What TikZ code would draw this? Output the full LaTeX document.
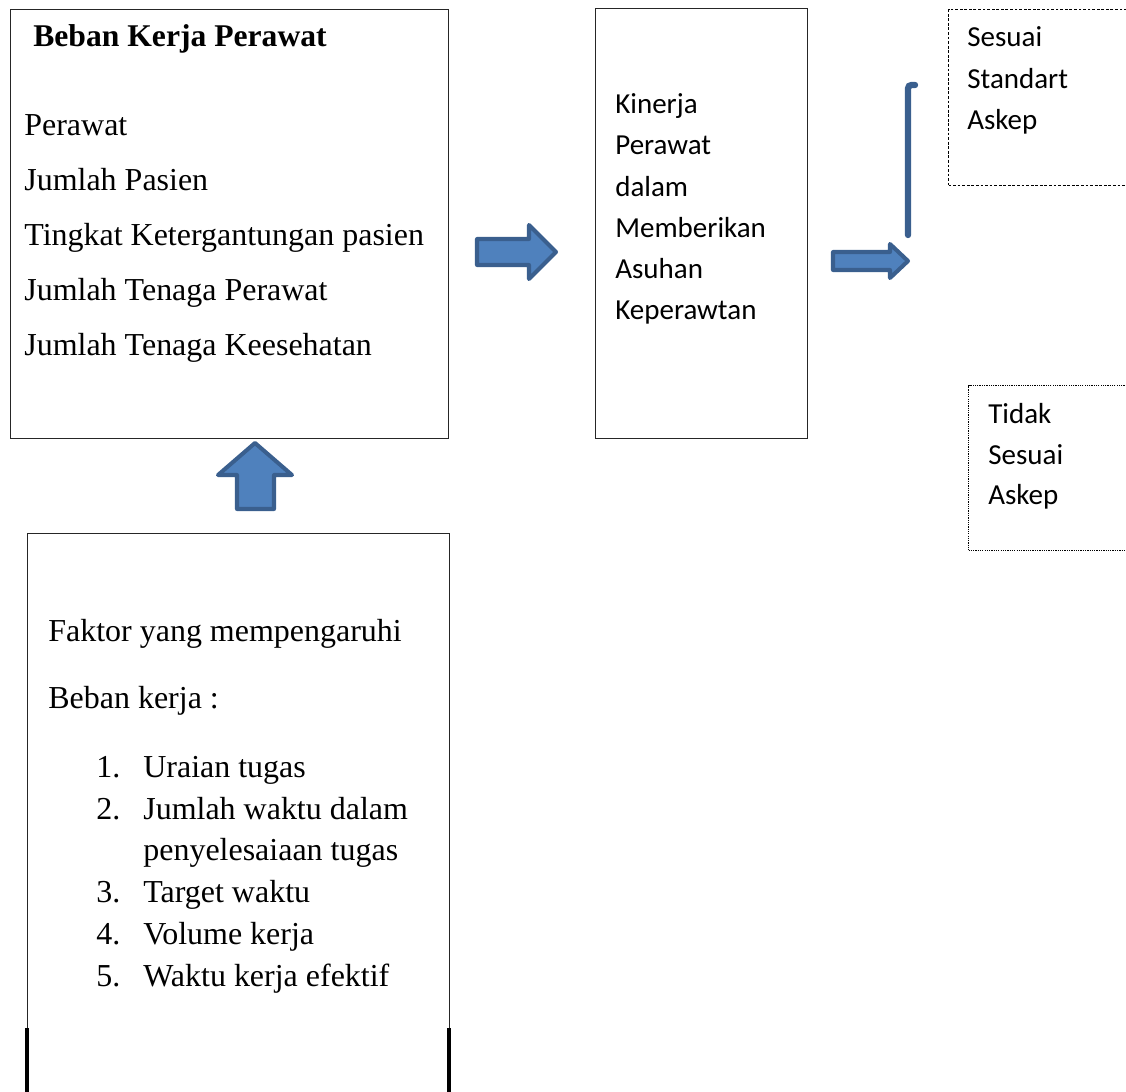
\documentclass[tikz,border=0pt]{standalone}
\usepackage{fontspec}
\setmainfont{Liberation Serif}
\newfontfamily\calibri{Carlito}
\usepackage{tikz}
\usepackage{xcolor}
\definecolor{arrowfill}{HTML}{4F81BD}
\definecolor{arrowline}{HTML}{3A5F8E}

\begin{document}
\begin{tikzpicture}[x=0.02cm, y=-0.02cm,
	box/.style={draw=black!85, line width=0.8pt, anchor=north west, inner sep=0pt},
	txt/.style={anchor=base west, inner sep=0pt, font=\fontsize{18.2}{22}\selectfont},
	sans/.style={anchor=base west, inner sep=0pt, font=\calibri\fontsize{16.5}{20}\selectfont},
	blockarrow/.style={fill=arrowfill, draw=arrowline, line width=2.3pt, line join=round}]
	\useasboundingbox (0,0) rectangle (1126,1092);
	% boxes
	\node [box, minimum width=8.76cm, minimum height=8.58cm] (0) at (10, 9) {};
	\node [box, minimum width=4.24cm, minimum height=8.6cm] (1) at (595, 8) {};
	\node [box, draw=black, line width=0.6pt, dash pattern=on 1.6pt off 1pt, minimum width=4cm, minimum height=3.52cm] (2) at (948, 9) {};
	\node [box, draw=black, line width=0.6pt, dash pattern=on 0.7pt off 0.6pt, minimum width=4cm, minimum height=3.3cm] (3) at (968, 385) {};
	\node [box, minimum width=8.44cm, minimum height=11.6cm] (4) at (27, 533) {};
	\draw [line width=1.8pt] (27, 1028) to (27, 1100);
	\draw [line width=1.8pt] (449, 1028) to (449, 1100);
	% beban kerja
	\node [txt, font=\bfseries\fontsize{18}{22}\selectfont] (10) at (33, 47) {Beban Kerja Perawat};
	\node [txt] (11) at (24, 135) {Perawat};
	\node [txt] (12) at (24, 190) {Jumlah Pasien};
	\node [txt] (13) at (24, 245) {Tingkat Ketergantungan pasien};
	\node [txt] (14) at (24, 300) {Jumlah Tenaga Perawat};
	\node [txt] (15) at (24, 355) {Jumlah Tenaga Keesehatan};
	% kinerja
	\node [sans] (20) at (615, 113) {Kinerja};
	\node [sans] (21) at (615, 154) {Perawat};
	\node [sans] (22) at (615, 196) {dalam};
	\node [sans] (23) at (615, 237) {Memberikan};
	\node [sans] (24) at (615, 278) {Asuhan};
	\node [sans] (25) at (615, 319) {Keperawtan};
	% hasil
	\node [sans] (30) at (967, 47) {Sesuai};
	\node [sans] (31) at (967, 88) {Standart};
	\node [sans] (32) at (967, 129) {Askep};
	\node [sans] (33) at (988, 423) {Tidak};
	\node [sans] (34) at (988, 464) {Sesuai};
	\node [sans] (35) at (988, 504) {Askep};
	% faktor
	\node [txt] (40) at (48, 641) {Faktor yang mempengaruhi};
	\node [txt] (41) at (48, 708) {Beban kerja :};
	\node [txt] (42) at (96, 777) {1.};
	\node [txt] (43) at (143, 777) {Uraian tugas};
	\node [txt] (44) at (96, 819) {2.};
	\node [txt] (45) at (143, 819) {Jumlah waktu dalam};
	\node [txt] (46) at (143, 860) {penyelesaiaan tugas};
	\node [txt] (47) at (96, 902) {3.};
	\node [txt] (48) at (143, 902) {Target waktu};
	\node [txt] (49) at (96, 944) {4.};
	\node [txt] (50) at (143, 944) {Volume kerja};
	\node [txt] (51) at (96, 986) {5.};
	\node [txt] (52) at (143, 986) {Waktu kerja efektif};
	% arrows
	\draw [blockarrow] (477, 239) -- (529, 239) -- (529, 225) -- (556, 252) -- (529, 279) -- (529, 265) -- (477, 265) -- cycle;
	\draw [blockarrow] (255, 443) -- (292, 475) -- (274, 475) -- (274, 509) -- (237, 509) -- (237, 475) -- (218, 475) -- cycle;
	\draw [blockarrow] (833, 252) -- (890, 252) -- (890, 244) -- (908, 261) -- (890, 278) -- (890, 270) -- (833, 270) -- cycle;
	\draw [arrowline, line width=3.6pt, line cap=round, rounded corners=2pt] (908, 235) -- (908, 85) -- (915, 85);
\end{tikzpicture}
\end{document}
